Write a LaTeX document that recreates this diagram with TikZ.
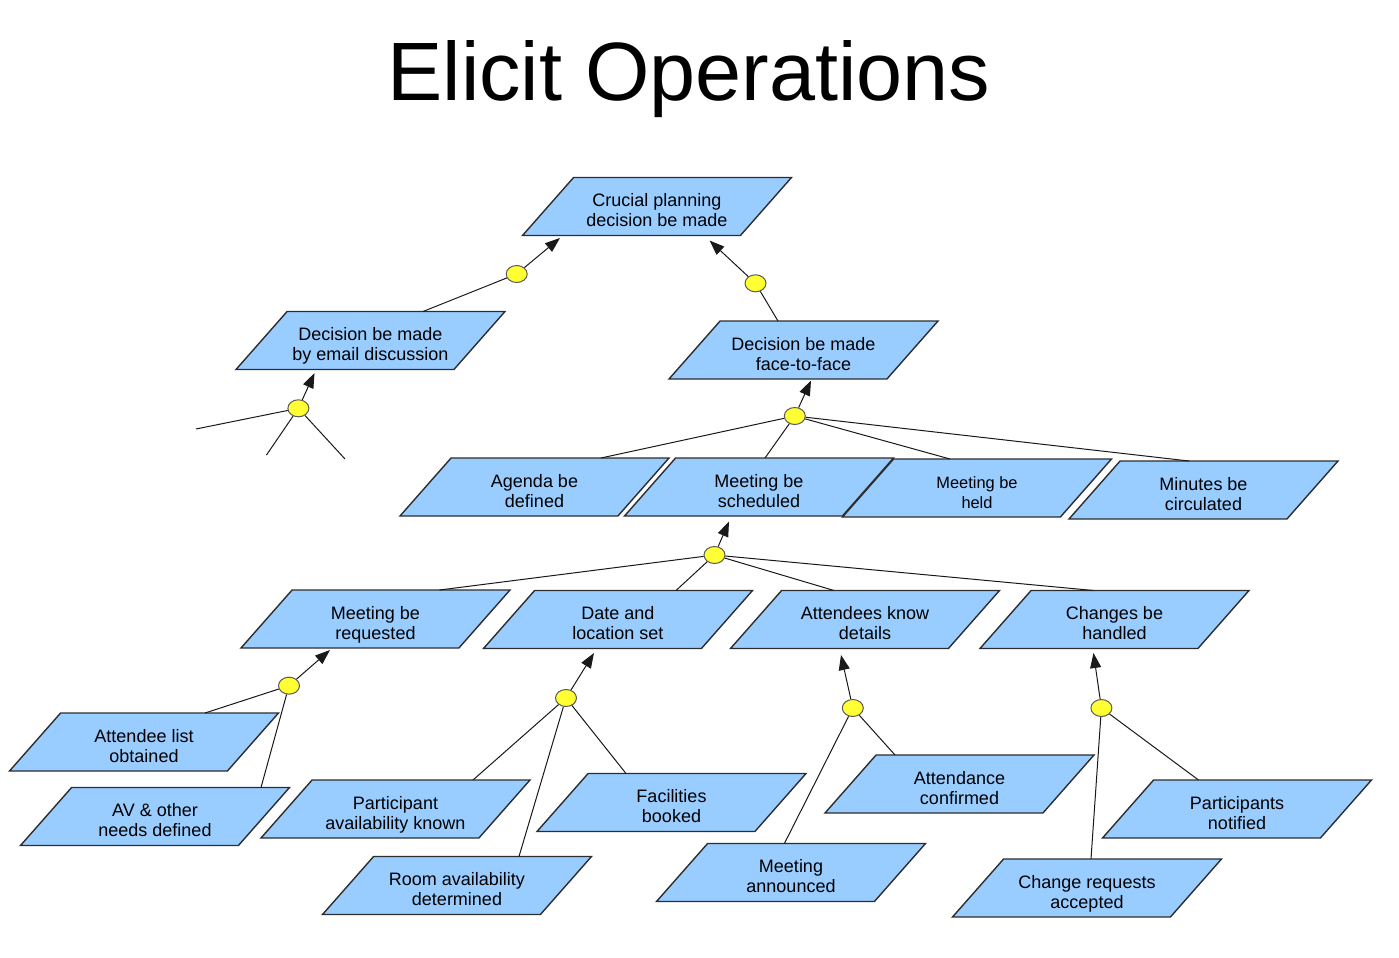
\documentclass[tikz,border=0pt]{standalone}
\usepackage{fontspec}
\setmainfont{Liberation Sans}
\usepackage{tikz}
\usetikzlibrary{calc}
\usetikzlibrary{arrows.meta}
\usetikzlibrary{shapes.geometric}

\definecolor{goalblue}{RGB}{153,204,255}
\definecolor{goalline}{RGB}{45,45,45}
\definecolor{andyellow}{RGB}{255,255,51}
\definecolor{andline}{RGB}{90,90,90}

\tikzset{
  goal/.style={trapezium, trapezium left angle=42, trapezium right angle=138,
    trapezium stretches body, draw=goalline, fill=goalblue, line width=0.7pt,
    minimum width=134.5pt, minimum height=29pt, inner sep=1pt,
    text height=20.5pt, text depth=0.5pt,
    align=center, font=\fontsize{9}{10}\selectfont},
  andnode/.style={ellipse, draw=andline, fill=andyellow, line width=0.5pt,
    minimum width=10.5pt, minimum height=8.5pt, inner sep=0pt},
  refline/.style={draw=black!90, line width=0.5pt},
  refarrow/.style={refline, -{Triangle[length=7.5pt,width=5.5pt]}}
}

\begin{document}
\begin{tikzpicture}[x=0.5pt,y=-0.5pt]
            \useasboundingbox (0,0) rectangle (1399,958);
            % Titel
            \node[anchor=base, font=\fontsize{41.4}{48}\selectfont] (title) at (689,100) {Elicit Operations};

            % Ziele
            \node[goal] (crucial) at (657,206.5) {Crucial planning\\decision be made};
            \node[goal] (email) at (370.5,340.5) {Decision be made\\by email discussion};
            \node[goal] (face) at (803.5,350) {Decision be made\\face-to-face};
            \node[goal] (agenda) at (534.5,487) {Agenda be\\defined};
            \node[goal] (sched) at (759,487) {Meeting be\\scheduled};
            \node[goal, font=\fontsize{8.2}{10}\selectfont] (held) at (977,488) {Meeting be\\held};
            \node[goal] (minutes) at (1203.5,490) {Minutes be\\circulated};
            \node[goal] (req) at (375.5,619) {Meeting be\\requested};
            \node[goal] (date) at (618,619.5) {Date and\\location set};
            \node[goal] (know) at (865,619.5) {Attendees know\\details};
            \node[goal] (changes) at (1114.5,619.5) {Changes be\\handled};
            \node[goal] (alist) at (144,742) {Attendee list\\obtained};
            \node[goal] (avneeds) at (155,816.5) {AV \& other\\needs defined};
            \node[goal] (pavail) at (395.5,809) {Participant\\availability known};
            \node[goal] (facil) at (671.5,802.5) {Facilities\\booked};
            \node[goal] (room) at (457,885.5) {Room availability\\determined};
            \node[goal] (attconf) at (959.5,784) {Attendance\\confirmed};
            \node[goal] (announced) at (791,872.5) {Meeting\\announced};
            \node[goal] (notified) at (1237,809) {Participants\\notified};
            \node[goal] (chreq) at (1087,888) {Change requests\\accepted};

            % Verfeinerungen
            \node[andnode] (r1) at (516.7,274) {};
            \node[andnode] (r2) at (755.5,283.3) {};
            \node[andnode] (r3) at (298.4,408.3) {};
            \node[andnode] (r4) at (794.8,416) {};
            \node[andnode] (r5) at (714.5,555) {};
            \node[andnode] (r6) at (289,685.7) {};
            \node[andnode] (r7) at (566,698) {};
            \node[andnode] (r8) at (852.8,708) {};
            \node[andnode] (r9) at (1101.4,708) {};
            \coordinate (d1) at (196,429);
            \coordinate (d2) at (266.5,455);
            \coordinate (d3) at (345,459);

            \draw[refarrow] (r1) -- ($(crucial.center)+(-97,31.5)$);
            \draw[refline] ($(email.center)+(52.5,-29)$) -- (r1);
            \draw[refarrow] (r2) -- ($(crucial.center)+(52.5,34)$);
            \draw[refline] ($(face.center)+(-25.5,-29)$) -- (r2);

            \draw[refarrow] (r3) -- ($(email.center)+(-56,32.5)$);
            \draw[refline] (d1) -- (r3);
            \draw[refline] (d2) -- (r3);
            \draw[refline] (d3) -- (r3);

            \draw[refarrow] (r4) -- ($(face.center)+(7.5,30.5)$);
            \draw[refline] ($(agenda.center)+(66.5,-29)$) -- (r4);
            \draw[refline] ($(sched.center)+(6,-29)$) -- (r4);
            \draw[refline] ($(held.center)+(-27,-29)$) -- (r4);
            \draw[refline] ($(minutes.center)+(-14.5,-29)$) -- (r4);

            \draw[refarrow] (r5) -- ($(sched.center)+(-30,34.5)$);
            \draw[refline] ($(req.center)+(64,-29)$) -- (r5);
            \draw[refline] ($(date.center)+(58,-29)$) -- (r5);
            \draw[refline] ($(know.center)+(-31,-29)$) -- (r5);
            \draw[refline] ($(changes.center)+(-21,-29)$) -- (r5);

            \draw[refarrow] (r6) -- ($(req.center)+(-45.5,31)$);
            \draw[refline] ($(alist.center)+(61,-29)$) -- (r6);
            \draw[refline] ($(avneeds.center)+(106,-29)$) -- (r6);

            \draw[refarrow] (r7) -- ($(date.center)+(-24,33.5)$);
            \draw[refline] ($(pavail.center)+(77.5,-29)$) -- (r7);
            \draw[refline] ($(room.center)+(62,-29)$) -- (r7);
            \draw[refline] ($(facil.center)+(-45.5,-29)$) -- (r7);

            \draw[refarrow] (r8) -- ($(know.center)+(-24,35.5)$);
            \draw[refline] ($(announced.center)+(-6.6,-29)$) -- (r8);
            \draw[refline] ($(attconf.center)+(-64.5,-29)$) -- (r8);

            \draw[refarrow] (r9) -- ($(changes.center)+(-21,33.5)$);
            \draw[refline] ($(chreq.center)+(4,-29)$) -- (r9);
            \draw[refline] ($(notified.center)+(-38.5,-29)$) -- (r9);
\end{tikzpicture}
\end{document}
